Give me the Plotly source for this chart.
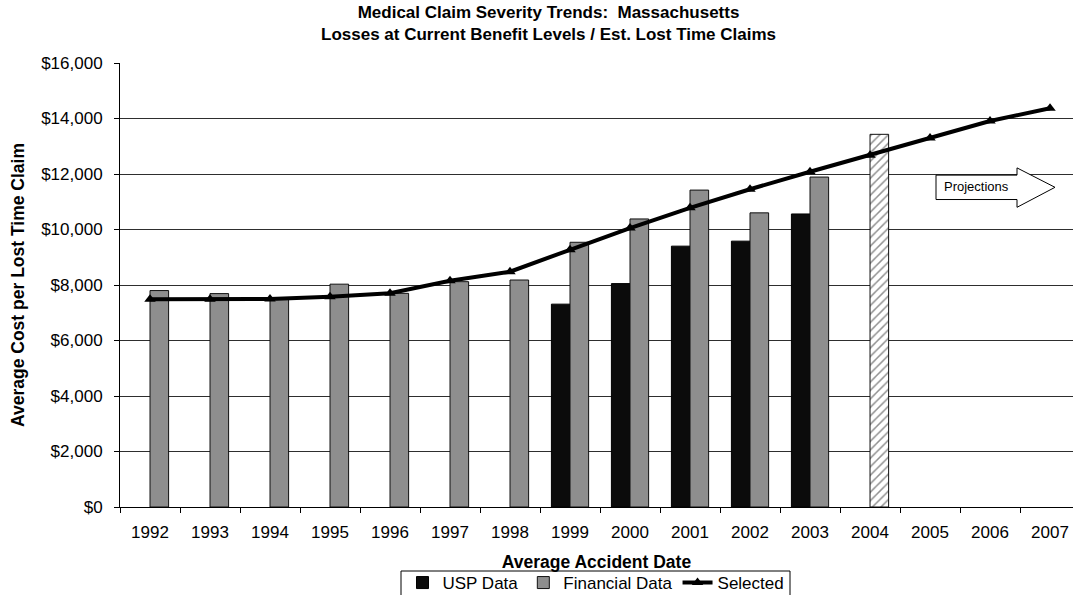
import plotly.graph_objects as go

# Accident years on the category axis
years = [str(y) for y in range(1992, 2008)]

# Average cost per lost time claim (dollars)
usp_data = [None, None, None, None, None, None, None,
            7310, 8050, 9400, 9580, 10560,
            None, None, None, None]
financial_data = [7800, 7690, 7490, 8030, 7700, 8120, 8180,
                  9540, 10380, 11420, 10600, 11890,
                  None, None, None, None]
estimate_2004 = [None] * 12 + [13430, None, None, None]
selected = [7490, 7490, 7500, 7580, 7700, 8150, 8480, 9270,
            10050, 10780, 11450, 12080, 12680, 13300, 13910, 14370]

FONT = "Liberation Sans, Arial, sans-serif"

# Plot-area geometry in pixels (figure is 1073 x 595)
PLOT_L, PLOT_R, PLOT_T, PLOT_B = 120, 1073, 63, 507


def px_to_paper_x(px):
    return (px - PLOT_L) / (PLOT_R - PLOT_L)


def px_to_paper_y(py):
    return (PLOT_B - py) / (PLOT_B - PLOT_T)


fig = go.Figure()

fig.add_trace(go.Bar(
    x=years, y=usp_data, name="USP Data", offsetgroup="usp",
    marker=dict(color="#0b0b0b", line=dict(color="#000000", width=1)),
))
fig.add_trace(go.Bar(
    x=years, y=financial_data, name="Financial Data", offsetgroup="fin",
    marker=dict(color="#8e8e8e", line=dict(color="#111111", width=1)),
))
fig.add_trace(go.Bar(
    x=years, y=estimate_2004, name="2004 Estimate", offsetgroup="fin",
    showlegend=False,
    marker=dict(color="#ffffff", line=dict(color="#111111", width=1),
                pattern=dict(shape="/", fgcolor="#222222", bgcolor="#ffffff",
                             size=6, solidity=0.25)),
))
fig.add_trace(go.Scatter(
    x=years, y=selected, name="Selected", mode="lines+markers",
    line=dict(color="#000000", width=4),
    marker=dict(symbol="triangle-up", size=10, color="#000000"),
))

# "Projections" arrow over the future years (y in data units, x in paper units)
bx0, hx0, tip = px_to_paper_x(936), px_to_paper_x(1017), px_to_paper_x(1055)
b_top, b_bot = 11960, 11080
h_top, h_bot, h_mid = 12220, 10800, 11520
arrow_path = (f"M {bx0},{b_top} L {hx0},{b_top} L {hx0},{h_top} L {tip},{h_mid} "
              f"L {hx0},{h_bot} L {hx0},{b_bot} L {bx0},{b_bot} Z")
fig.add_shape(type="path", path=arrow_path, xref="paper", yref="y",
              fillcolor="#ffffff", line=dict(color="#000000", width=1))
fig.add_annotation(x=px_to_paper_x(976), y=11560, xref="paper", yref="y",
                   xanchor="center", yanchor="middle",
                   text="Projections", showarrow=False,
                   font=dict(family=FONT, size=13, color="#000000"))

# Two-line chart title
fig.add_annotation(
    x=px_to_paper_x(548), y=px_to_paper_y(24), xref="paper", yref="paper",
    xanchor="center", yanchor="middle", showarrow=False,
    text="<b>Medical Claim Severity Trends:  Massachusetts<br>"
         "Losses at Current Benefit Levels / Est. Lost Time Claims</b>",
    font=dict(family=FONT, size=17, color="#000000"),
)

# Legend frame (open at the bottom edge of the figure)
fig.add_shape(type="rect", xref="paper", yref="paper",
              x0=px_to_paper_x(401), x1=px_to_paper_x(790),
              y0=px_to_paper_y(571), y1=px_to_paper_y(600),
              line=dict(color="#000000", width=1), fillcolor="rgba(0,0,0,0)")

fig.update_layout(
    width=1073, height=595,
    margin=dict(l=PLOT_L, r=0, t=PLOT_T, b=595 - PLOT_B, autoexpand=False),
    paper_bgcolor="#ffffff", plot_bgcolor="#ffffff",
    barmode="group", bargap=0.38, bargroupgap=0,
    font=dict(family=FONT, size=17, color="#000000"),
    xaxis=dict(
        type="category", range=[-0.5, 15.383],
        tickson="boundaries", ticks="outside", ticklen=5, tickcolor="#000000",
        showline=True, linecolor="#000000", linewidth=1,
        showgrid=False, tickfont=dict(size=17), tickangle=0,
        ticklabelstandoff=10,
        title=dict(text="<b>Average Accident Date</b>", standoff=14,
                   font=dict(size=17.5)),
    ),
    yaxis=dict(
        range=[0, 16000], dtick=2000, tickprefix="$", tickformat=",d",
        ticks="outside", ticklen=5, tickcolor="#000000",
        showline=True, linecolor="#000000", linewidth=1,
        showgrid=True, gridcolor="#2e2e2e", gridwidth=1,
        zeroline=False, tickfont=dict(size=17), ticklabelstandoff=8,
        title=dict(text="<b>Average Cost per Lost Time Claim</b>", standoff=12,
                   font=dict(size=17.5)),
    ),
    legend=dict(
        orientation="h", x=px_to_paper_x(596), xref="paper", xanchor="center",
        y=px_to_paper_y(565), yanchor="top",
        borderwidth=0, bgcolor="rgba(0,0,0,0)",
        font=dict(size=17), itemwidth=30, tracegroupgap=0,
    ),
    showlegend=True,
)

fig.write_html("out.html")
